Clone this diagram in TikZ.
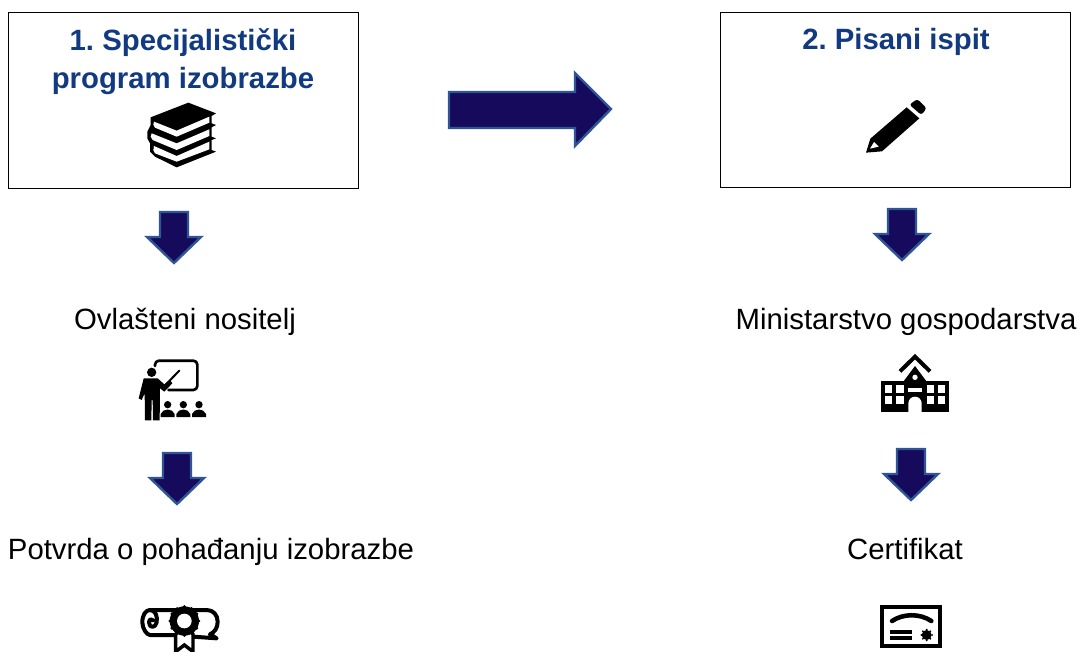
\documentclass[tikz,border=0pt]{standalone}
\usepackage{fontspec}
\setmainfont{Liberation Sans}
\definecolor{headblue}{HTML}{123A80}
\definecolor{arrowfill}{HTML}{150A5C}
\definecolor{arrowline}{HTML}{2F5597}
\tikzset{
  panel/.style={draw=black,line width=0.75pt,fill=white},
  blockarrow/.style={fill=arrowfill,draw=arrowline,line width=1.8pt,miter limit=10},
  heading/.style={anchor=base,font=\fontsize{22}{26}\selectfont\bfseries\frenchspacing,text=headblue,inner sep=0pt},
  caption/.style={anchor=base,font=\fontsize{22}{26}\selectfont\frenchspacing,text=black,inner sep=0pt},
  ink/.style={fill=black,draw=none},
  paper/.style={fill=white,draw=none},
  stroke/.style={draw=black,line join=round,line cap=round,fill=none},
}
\newcommand{\downblock}[2]{\draw[blockarrow] (#1-14,#2) -- (#1+14,#2) -- (#1+14,#2+25) -- (#1+27,#2+25) -- (#1,#2+51) -- (#1-27,#2+25) -- (#1-14,#2+25) -- cycle;}
\begin{document}
\begin{tikzpicture}[x=0.75pt,y=-0.75pt]
\useasboundingbox (0,0) rectangle (1080,652);
\node[panel,minimum width=262.5pt,minimum height=132pt,inner sep=0pt] (box1) at (183,101) {};
\node[panel,minimum width=262.5pt,minimum height=131.25pt,inner sep=0pt] (box2) at (895.7,100.5) {};
\node[heading] (h1a) at (183,51) {1. Specijalistički};
\node[heading] (h1b) at (183,89) {program izobrazbe};
\node[heading] (h2) at (896,50) {2. Pisani ispit};
\node[caption] (c1) at (185,329) {Ovlašteni nositelj};
\node[caption] (c2) at (211,559) {Potvrda o pohađanju izobrazbe};
\node[caption] (c3) at (906,329) {Ministarstvo gospodarstva};
\node[caption] (c4) at (905,559) {Certifikat};

% block arrows
\draw[blockarrow] (449,92) -- (575,92) -- (575,73) -- (611,109) -- (575,146) -- (575,128) -- (449,128) -- cycle;
\downblock{174}{212}
\downblock{177}{453}
\downblock{902}{209}
\downblock{911}{449}

% books
\begin{scope}[shift={(130,90)},scale=1/3]
\fill[ink] (62,82) -- (175,38) -- (258,70) -- (245,78) -- (245,100) -- (258,105) -- (245,112) -- (245,140) -- (258,145) -- (245,150) -- (245,180) -- (258,185) -- (140,232) -- (75,200) -- (60,185) -- (60,160) -- (52,145) -- (52,125) -- (62,105) -- cycle;
\fill[paper] (72,95) -- (140,122) -- (238,80) -- (238,98) -- (140,140) -- (75,113) -- (70,104) -- cycle;
\fill[paper] (65,130) -- (140,160) -- (238,118) -- (238,138) -- (140,180) -- (68,150) -- (62,140) -- cycle;
\fill[paper] (72,168) -- (140,198) -- (238,155) -- (238,178) -- (140,215) -- (75,190) -- (70,180) -- cycle;
\end{scope}

% teacher
\begin{scope}[shift={(125,350)},scale=1/3]
\draw[stroke,line width=2pt,rounded corners=3pt] (90,48) -- (90,32) -- (217,32) -- (217,120) -- (130,120);
\draw[stroke,line width=1.5pt] (118,108) -- (163,62);
\fill[ink] (80,67) circle (14);
\fill[ink] (56,85) -- (98,85) -- (118,103) -- (135,90) -- (142,100) -- (118,125) -- (105,115) -- (104,211) -- (84,211) -- (83,150) -- (80,150) -- (79,211) -- (60,211) -- (59,130) -- (50,150) -- (41,145) -- cycle;
\foreach \cx in {128,175,222}{
  \fill[ink] (\cx,164) circle (11);
  \fill[ink] (\cx-21,201) -- (\cx-21,192) .. controls (\cx-14,174) and (\cx+14,174) .. (\cx+21,192) -- (\cx+21,201) -- cycle;
}
\end{scope}

% diploma
\begin{scope}[shift={(125,595)},scale=1/3]
\draw[stroke,line width=3pt] (75,45) -- (245,45) .. controls (265,45) and (278,60) .. (278,80) .. controls (278,100) and (268,112) .. (255,118) -- (275,130) -- (205,125);
\draw[stroke,line width=3pt] (150,120) -- (75,120) .. controls (65,120) and (52,100) .. (52,82) .. controls (52,60) and (62,45) .. (75,45) .. controls (92,45) and (98,65) .. (95,82) .. controls (92,100) and (72,100) .. (72,82) .. controls (72,72) and (82,70) .. (84,76);
\fill[paper] (148,110) rectangle (208,172);
\draw[stroke,line width=2.6pt,line join=miter] (152,115) -- (152,170) -- (178,150) -- (204,170) -- (204,115);
\fill[ink] (178,78) circle (44);
\foreach \a in {0,30,...,330}{\fill[ink] (178,78) ++(\a:43) circle (5);}
\fill[paper] (178,78) circle (22);
\end{scope}

% pencil
\begin{scope}[shift={(860,90)},scale=1/3]
\fill[ink,rounded corners=2pt] (148,44) -- (172,27) -- (200,55) -- (184,75) -- cycle;
\fill[ink] (140,52) -- (178,85) -- (66,184) -- (18,188) -- (31,146) -- cycle;
\fill[paper] (30,176) -- (42,156) -- (56,170) -- cycle;
\end{scope}

% school
\begin{scope}[shift={(870,350)},scale=1/3]
\draw[stroke,line width=3pt,line join=miter,line cap=butt] (90,64) -- (135,20) -- (180,64);
\fill[ink] (33,92) rectangle (237,187);
\fill[ink] (100,95) -- (135,48) -- (170,95) -- cycle;
\fill[paper] (135,82) circle (8);
\foreach \wx in {45,79,170,204}{
  \fill[paper] (\wx,105) rectangle +(22,23);
  \fill[paper] (\wx,138) rectangle +(22,23);
}
\fill[paper] (115,115) rectangle (155,125);
\fill[paper] (115,187) -- (115,160) arc[start angle=180,end angle=360,radius=20] -- (155,187) -- cycle;
\end{scope}

% certificate
\begin{scope}[shift={(870,600)},scale=1/3]
\draw[draw=black,line width=3pt] (36,21) rectangle (211,139);
\draw[stroke,line width=3.4pt] (66,63) .. controls (100,40) and (150,40) .. (184,63);
\fill[ink] (60,90) rectangle (125,101);
\fill[ink] (60,108) rectangle (125,120);
\fill[ink] (170,105) circle (15);
\foreach \a in {0,45,...,315}{\fill[ink] (170,105) ++(\a:16) circle (3);}
\end{scope}
\end{tikzpicture}
\end{document}
